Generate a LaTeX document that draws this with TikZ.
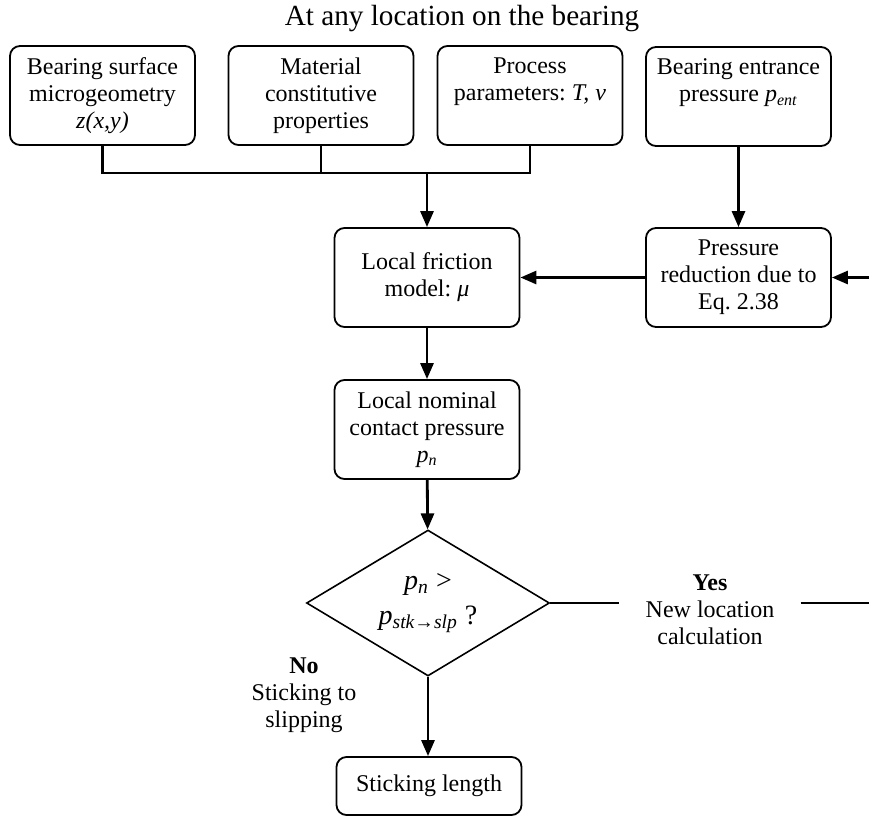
\documentclass[tikz,border=0pt]{standalone}
\usepackage{fontspec}
\setmainfont{Liberation Serif}
\usetikzlibrary{positioning, arrows.meta, shapes.geometric, calc}

\newcommand{\lowsub}[1]{\textsubscript{\textit{#1}}}
\frenchspacing

\begin{document}
\begin{tikzpicture}[x=0.5pt, y=-0.5pt,
  box/.style={draw, rounded corners=5pt, line width=0.9pt, align=center, minimum width=92.5pt, minimum height=49.5pt, inner sep=2pt, font=\fontsize{12}{13.5}\selectfont},
  topfill/.style={text depth=16.5pt},
  link/.style={line width=1.4pt},
  arrow/.style={link, -{Triangle[length=8pt, width=6.5pt]}},
  tag/.style={align=center, font=\fontsize{12}{13.5}\selectfont}]
\useasboundingbox (0,0) rectangle (869,816);

\node[font=\fontsize{14.6}{17}\selectfont] (title) at (462,19) {At any location on the bearing};

% inputs along the top
\node[box] (surf) at (102.5,95.5) {Bearing surface\\ microgeometry\\ \textit{z(x,y)}};
\node[box] (mat) at (321,95.5) {Material\\ constitutive\\ properties};
\node[box, topfill] (proc) at (530,95.5) {Process\\ parameters: \textit{T, v}};
\node[box, topfill] (ent) at (738.5,96.5) {Bearing entrance\\ pressure \textit{p}\lowsub{ent}};

\node[box] (fric) at (427,277.5) {Local friction\\ model: \textit{μ}};
\node[box] (red) at (738.5,277.5) {Pressure\\ reduction due to\\ Eq. 2.38};
\node[box] (nom) at (427,429.5) {Local nominal\\ contact pressure\\ \textit{p}\lowsub{n}};

\node[draw, diamond, aspect=1.66, line width=0.8pt, minimum width=121.5pt, minimum height=73pt, inner sep=0pt, align=center, font=\fontsize{14}{17.5}\selectfont] (check) at (428,603) {\textit{p}\lowsub{n} >\\ \textit{p}\lowsub{stk→slp} ?};
\node[box, minimum height=29pt] (stick) at (429,786) {Sticking length};

\node[tag, inner xsep=13pt] (yes) at (710,610) {\textbf{Yes}\\ New location\\ calculation};
\node[tag] (no) at (304,695) {\textbf{No}\\ Sticking to\\ slipping};

\coordinate (join) at (427,173);
\coordinate (inR) at (869,277.5);
\coordinate (outR) at (869,603);

% collect the three inputs
\draw[link] (surf.south) -- (surf.south |- join) -- (proc.south |- join) -- (proc.south);
\draw[link] (mat.south) -- (mat.south |- join);
\draw[arrow] (join) -- (fric.north);
\draw[arrow] (ent) -- (red);
\draw[arrow] (inR) -- (red.east);
\draw[arrow] (red) -- (fric);
\draw[arrow] (fric) -- (nom);
\draw[arrow] (nom) -- (check);
\draw[arrow] (check.south) -- (check.south |- stick.north);

% yes branch leaves to the right
\draw[link] (check.east) -- (check.east -| yes.west);
\draw[link] (check.east -| yes.east) -- (outR);
\end{tikzpicture}
\end{document}
